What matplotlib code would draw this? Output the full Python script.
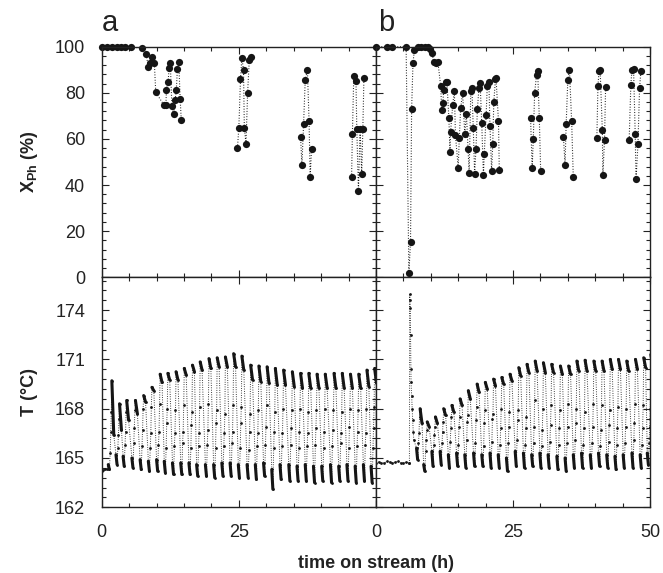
import numpy as np
import matplotlib
matplotlib.use('Agg')
import matplotlib.pyplot as plt
from matplotlib.ticker import AutoMinorLocator

plt.rcParams['font.family'] = ['Liberation Sans', 'DejaVu Sans']
plt.rcParams['mathtext.fontset'] = 'custom'
plt.rcParams['mathtext.rm'] = 'Liberation Sans'
plt.rcParams['mathtext.bf'] = 'Liberation Sans:bold'

nan = np.nan

# conversion of phenol, run a (time in h, X in %); nan breaks the dotted line
xa_t = [0, 0.9, 1.8, 2.7, 3.6, 4.2, 5.3, 7.3, 8.1, 8.5, 8.8, 9.2, 9.6, 9.85,
        11.4, 11.7, 11.8, 12.1, 12.3, 12.5, 12.8, 13.1, 13.4, 13.6, 13.8, 14.05, 14.3, 14.5, nan,
        24.75, 25.0, 25.3, 25.55, 25.85, 26.0, 26.3, 26.6, 26.9, 27.3, nan,
        36.25, 36.5, 36.8, 37.1, 37.5, 37.8, 38.0, 38.25, nan,
        45.55, 45.7, 45.95, 46.35, 46.5, 46.8, 47.1, 47.4, 47.6, 47.8]
xa_X = [100, 100, 100, 100, 100, 100, 100, 99.3, 96.7, 91.3, 92.8, 95.4, 92.8, 80.2,
        74.5, 74.5, 81.2, 84.8, 90.9, 92.8, 74.2, 70.6, 77.1, 81.2, 90.4, 93.2, 77.4, 68.4, nan,
        56.1, 64.9, 85.8, 95.2, 89.9, 64.9, 58.0, 80.0, 94.2, 95.7, nan,
        60.9, 48.9, 66.3, 85.5, 89.9, 67.8, 43.5, 55.5, nan,
        43.5, 62.3, 87.3, 85.2, 64.5, 37.4, 64.5, 44.7, 64.1, 86.3]

# conversion of phenol, run b
xb_t = [0, 1.95, 2.9, 5.5, 6.0, 6.3, 6.5, 6.75, 7.0, 7.7, 8.25, 8.9, 9.5, 9.8, 10.3, 10.5,
        10.9, 11.3, 11.8, 12.0, 12.2, 12.35, 12.8, 12.95, 13.3, 13.5, 13.6, 14.0, 14.3, 14.5,
        15.0, 15.2, 15.45, 15.8, 16.2, 16.5, 16.8, 17.0, 17.3, 17.5, 17.75, 18.0, 18.25, 18.5,
        18.8, 19.0, 19.3, 19.6, 19.75, 20.1, 20.3, 20.6, 20.8, 21.1, 21.3, 21.5, 21.8, 21.9,
        22.35, 22.5, nan,
        28.2, 28.5, 28.7, 28.95, 29.3, 29.5, 29.8, 30.05, nan,
        34.2, 34.5, 34.7, 35.0, 35.3, 35.7, 36.0, nan,
        40.3, 40.5, 40.7, 40.9, 41.3, 41.4, 41.7, 41.9, nan,
        46.2, 46.5, 46.7, 47.0, 47.3, 47.45, 47.8, 48.1, 48.35]
xb_X = [100, 100, 100, 100, 1.7, 15.4, 72.8, 92.8, 98.6, 100, 100, 100, 100, 99, 97.1, 93.2,
        92.8, 93.5, 82.9, 72.5, 75.4, 81.2, 84.8, 84.5, 68.9, 54.4, 62.8, 74.7, 80.9, 61.6,
        47.6, 60.2, 73.2, 80.0, 62.3, 71.0, 55.5, 45.4, 80.9, 82.3, 64.8, 45.0, 55.8, 72.9,
        82.3, 84.1, 66.7, 44.2, 53.3, 70.3, 82.9, 84.8, 65.5, 46.1, 57.7, 76.1, 85.9, 86.5,
        67.7, 46.4, nan,
        69.1, 47.4, 59.9, 80.0, 87.7, 89.4, 69.1, 46.1, nan,
        60.9, 48.9, 66.3, 85.5, 89.9, 67.8, 43.5, nan,
        60.2, 82.9, 89.6, 89.9, 63.8, 44.2, 59.7, 82.6, nan,
        59.7, 83.3, 89.9, 90.3, 62.0, 42.5, 57.7, 82.3, 89.6]

# reactor temperature, run a: readings before the first pulse
start_a_t = [0.0, 0.3, 0.6, 0.9]
start_a_T = [164.2, 164.25, 164.3, 164.35]
# one row per pulse cycle: start time, bottom stroke, three intermediate readings, top hook
cyc_a_t = [1.2, 2.6, 3.9, 5.5, 7.0, 8.5, 10.0, 11.4, 12.9, 14.4, 15.9, 17.3, 18.9, 20.4,
           21.9, 23.4, 24.9, 26.5, 28.0, 29.5, 31.0, 32.5, 34.1, 35.6, 37.1, 38.6, 40.1,
           41.7, 43.2, 44.7, 46.2, 47.7, 49.1]
bot_hi_a = [164.6, 165.2, 165.1, 165.0, 164.9, 164.8, 164.9, 164.8, 164.7, 164.7, 164.7,
            164.6, 164.6, 164.6, 164.7, 164.7, 164.6, 164.6, 164.6, 164.7, 164.3, 164.6,
            164.6, 164.5, 164.6, 164.5, 164.5, 164.6, 164.5, 164.6, 164.5, 164.6, 164.5]
bot_lo_a = [164.3, 164.6, 164.5, 164.4, 164.3, 164.2, 164.2, 164.1, 164.0, 164.0, 164.0,
            163.9, 163.9, 163.8, 163.9, 163.9, 163.8, 163.8, 163.7, 163.9, 163.1, 163.7,
            163.6, 163.6, 163.6, 163.5, 163.6, 163.5, 163.6, 163.6, 163.5, 163.6, 163.5]
mid1_a = [165.3, 165.6, 165.8, 165.9, 165.7, 165.6, 165.8, 165.6, 165.7, 165.9, 165.6,
          165.7, 165.8, 165.6, 165.7, 165.9, 165.6, 165.5, 165.7, 165.8, 165.6, 165.7,
          165.8, 165.6, 165.7, 165.8, 165.6, 165.7, 165.9, 165.6, 165.7, 165.8, 165.6]
mid2_a = [166.6, 166.4, 166.6, 166.8, 166.7, 166.5, 166.6, 167.1, 166.5, 166.6, 167.0,
          166.5, 166.7, 167.1, 166.5, 166.6, 167.1, 166.6, 166.5, 166.9, 166.6, 166.5,
          166.8, 166.6, 166.5, 166.8, 166.6, 166.7, 166.5, 166.9, 166.6, 166.5, 166.8]
mid3_a = [167.8, 167.4, 167.8, 167.9, 168.0, 168.1, 168.3, 168.0, 167.9, 168.2, 167.8,
          168.1, 168.3, 167.9, 167.7, 168.2, 168.1, 167.7, 167.9, 168.2, 167.8, 168.0,
          167.9, 168.0, 167.8, 167.9, 168.0, 167.9, 167.8, 168.0, 167.9, 168.0, 168.1]
top_hi_a = [169.7, 168.3, 168.5, 168.5, 168.8, 169.3, 170.1, 170.15, 170.25, 170.45, 170.65,
            170.85, 171.05, 171.1, 171.15, 171.35, 171.2, 170.65, 170.6, 170.55, 170.45,
            170.35, 170.25, 170.15, 170.15, 170.1, 170.1, 170.15, 170.15, 170.1, 170.1,
            170.35, 170.45]
top_lo_a = [166.4, 166.7, 167.3, 167.7, 168.4, 169.1, 169.6, 169.75, 169.75, 170.05, 170.25,
            170.35, 170.45, 170.55, 170.55, 170.55, 170.35, 169.75, 169.65, 169.55, 169.45,
            169.45, 169.35, 169.25, 169.25, 169.25, 169.25, 169.25, 169.25, 169.25, 169.25,
            169.35, 169.55]

# reactor temperature, run b: steady start, then the spike
start_b_t = [0.0, 0.5, 1.0, 1.5, 2.0, 2.5, 3.0, 3.5, 4.0, 4.5, 5.0, 5.5, 6.0,
             6.1, 6.15, 6.2, 6.25, 6.3, 6.35, 6.4, 6.5, 6.6, 6.7, 6.8, 6.9]
start_b_T = [164.7, 164.75, 164.7, 164.7, 164.8, 164.75, 164.7, 164.75, 164.8, 164.7,
             164.7, 164.75, 164.7,
             164.7, 175.0, 174.6, 174.1, 172.5, 170.4, 169.6, 168.8, 168.0, 167.3, 166.6, 166.1]
cyc_b_t = [7.4, 8.7, 10.2, 11.7, 13.2, 14.7, 16.2, 17.8, 19.3, 20.8, 22.3, 23.8, 25.4, 26.9,
           28.4, 29.9, 31.4, 33.0, 34.5, 36.0, 37.5, 39.1, 40.6, 42.1, 43.6, 45.1, 46.7,
           48.2, 49.5]
bot_hi_b = [165.6, 164.6, 165.4, 165.4, 165.2, 165.3, 165.2, 165.3, 165.2, 165.3, 165.2,
            165.0, 165.4, 165.3, 165.2, 165.3, 165.2, 165.1, 165.0, 165.2, 165.3, 165.2,
            165.3, 165.2, 165.1, 165.2, 165.3, 165.2, 165.3]
bot_lo_b = [164.9, 164.2, 164.5, 164.6, 164.4, 164.5, 164.4, 164.5, 164.5, 164.4, 164.4,
            164.2, 164.5, 164.4, 164.5, 164.4, 164.4, 164.3, 164.2, 164.4, 164.4, 164.4,
            164.5, 164.4, 164.3, 164.4, 164.4, 164.4, 164.6]
mid1_b = [165.9, 165.4, 165.8, 165.9, 166.0, 165.8, 166.1, 165.9, 165.7, 166.0, 165.8,
          165.9, 166.1, 165.8, 165.9, 165.7, 166.0, 165.8, 165.9, 166.1, 165.8, 165.9,
          165.7, 166.0, 165.8, 165.9, 166.1, 165.8, 165.9]
mid2_b = [166.5, 166.1, 166.4, 166.6, 166.8, 166.9, 167.2, 167.3, 167.1, 167.4, 166.8,
          166.9, 167.3, 166.8, 166.9, 166.7, 167.0, 166.8, 166.9, 167.1, 166.8, 166.9,
          166.7, 167.0, 166.8, 166.9, 167.1, 166.8, 166.9]
mid3_b = [167.5, 166.7, 166.9, 167.2, 167.5, 167.5, 167.6, 168.1, 167.9, 167.7, 168.0,
          167.8, 167.9, 167.5, 168.5, 168.0, 168.2, 167.9, 168.3, 168.0, 167.8, 168.3,
          168.2, 167.9, 168.1, 168.0, 168.3, 168.2, 168.0]
top_hi_b = [168.0, 167.2, 167.5, 168.0, 168.2, 168.6, 169.1, 169.5, 169.6, 169.8, 169.9,
            170.1, 170.5, 170.7, 170.9, 170.8, 170.7, 170.6, 170.6, 170.9, 170.95, 170.9,
            170.9, 171.0, 171.0, 170.9, 171.0, 171.1, 171.3]
top_lo_b = [167.1, 166.9, 167.1, 167.6, 167.8, 168.2, 168.6, 169.0, 169.2, 169.4, 169.5,
            169.7, 170.0, 170.2, 170.3, 170.2, 170.2, 170.1, 170.1, 170.3, 170.3, 170.3,
            170.3, 170.4, 170.4, 170.3, 170.4, 170.5, 170.6]

# time of each reading inside a cycle (h after cycle start)
phase = [0.0, 0.2, 0.35, 0.45, 0.55, 0.65, 1.0]

ink = '#151515'


def cycle_series(t0, T0, cyc_t, bhi, blo, m1, m2, m3, thi, tlo):
    t = list(t0)
    T = list(T0)
    for i, c in enumerate(cyc_t):
        t += [c + p for p in phase]
        T += [bhi[i], blo[i], m1[i], m2[i], m3[i], thi[i], tlo[i]]
    return t, T


def draw_temp(ax, t0, T0, cyc_t, bhi, blo, m1, m2, m3, thi, tlo):
    t, T = cycle_series(t0, T0, cyc_t, bhi, blo, m1, m2, m3, thi, tlo)
    ax.plot(t, T, ls=(0, (0.8, 1.6)), lw=0.7, color=ink, marker='o', ms=2.0, mew=0)
    # dense logging at the bottom and the top of each cycle shows as short strokes
    for i, c in enumerate(cyc_t):
        ax.plot([c + phase[0], c + phase[1]], [bhi[i], blo[i]], color=ink, lw=2.2,
                solid_capstyle='round')
        ax.plot([c + phase[5], c + phase[6]], [thi[i], tlo[i]], color=ink, lw=2.2,
                solid_capstyle='round')


def style(ax, top):
    ax.set_xlim(0, 50)
    ax.set_xticks([0, 25, 50])
    ax.xaxis.set_minor_locator(AutoMinorLocator(5))
    ax.yaxis.set_minor_locator(AutoMinorLocator(5))
    ax.tick_params(which='both', direction='in', top=True, right=True, width=0.8,
                   labelsize=13, pad=12, colors='#222222')
    ax.tick_params(which='major', length=5)
    ax.tick_params(which='minor', length=3)
    for s in ax.spines.values():
        s.set_linewidth(1.0)
        s.set_color('#222222')
    if top:
        ax.set_ylim(0, 100)
        ax.set_yticks([0, 20, 40, 60, 80, 100])
    else:
        ax.set_ylim(162, 176)
        ax.set_yticks([162, 165, 168, 171, 174])


fig = plt.figure(figsize=(6.63, 5.73), dpi=100)
L, M, R = 0.1534, 0.5671, 0.9804
B, C, T = 0.1147, 0.5161, 0.9185
ax_a = fig.add_axes([L, C, M - L, T - C])
ax_b = fig.add_axes([M, C, R - M, T - C])
ax_c = fig.add_axes([L, B, M - L, C - B])
ax_d = fig.add_axes([M, B, R - M, C - B])

for ax, t, X in [(ax_a, xa_t, xa_X), (ax_b, xb_t, xb_X)]:
    ax.plot(t, X, ls=(0, (0.8, 1.6)), lw=0.8, color=ink, marker='o', ms=5.2, mew=0,
            clip_on=False)

draw_temp(ax_c, start_a_t, start_a_T, cyc_a_t, bot_hi_a, bot_lo_a, mid1_a, mid2_a, mid3_a,
          top_hi_a, top_lo_a)
draw_temp(ax_d, start_b_t, start_b_T, cyc_b_t, bot_hi_b, bot_lo_b, mid1_b, mid2_b, mid3_b,
          top_hi_b, top_lo_b)

style(ax_a, True)
style(ax_b, True)
style(ax_c, False)
style(ax_d, False)

ax_a.set_xticklabels([])
ax_b.set_xticklabels([])
ax_b.set_yticklabels([])
ax_d.set_yticklabels([])
ax_c.set_xticklabels(['0', '25', ''])

fig.text(30 / 663, 1 - 162 / 573, r'$\mathbf{X_{Ph}}$ (%)', rotation=90, ha='center',
         va='center', fontsize=13, fontweight='bold', color='#222222')
fig.text(30 / 663, 1 - 392 / 573, 'T (°C)', rotation=90, ha='center', va='center',
         fontsize=13, fontweight='bold', color='#222222')
fig.text(M, 1 - 563 / 573, 'time on stream (h)', ha='center', va='center', fontsize=13,
         fontweight='bold', color='#222222')
fig.text(L, 1 - 31 / 573, 'a', fontsize=21, color='#222222', ha='left', va='baseline')
fig.text(M + 0.003, 1 - 31 / 573, 'b', fontsize=21, color='#222222', ha='left',
         va='baseline')

fig.savefig('out.png', dpi=100)
